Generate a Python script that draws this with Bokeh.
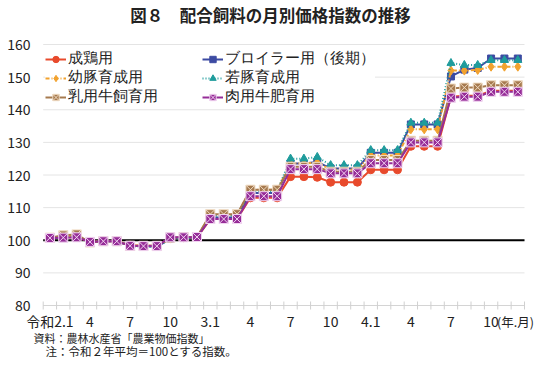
import math
from bokeh.plotting import figure
from bokeh.models import Legend, LegendItem, ColumnDataSource
from bokeh.core.properties import value
from bokeh.embed import file_html
from bokeh.resources import INLINE

# ---------------- data ----------------
months = list(range(36))  # 令和2年1月 .. 令和4年12月

seikei = [100.6, 100.9, 101.0, 99.5, 99.8, 99.7, 98.5, 98.3, 98.3, 100.5, 100.8, 100.8,
          106.5, 106.5, 106.5, 113.0, 113.0, 113.0, 119.5, 119.5, 119.3, 117.8, 117.8, 117.8,
          121.6, 121.6, 121.6, 128.8, 128.8, 128.8, 144.0, 144.3, 144.3, 145.8, 145.8, 145.8]
broiler = [100.5, 101.0, 101.2, 99.5, 99.7, 99.7, 98.3, 98.2, 98.0, 100.5, 100.7, 100.8,
           107.0, 107.0, 107.0, 114.5, 114.5, 114.5, 123.5, 123.5, 124.0, 122.0, 122.0, 122.0,
           126.8, 126.8, 126.8, 135.5, 135.5, 135.5, 150.2, 152.3, 152.8, 155.7, 155.7, 155.7]
youton = [100.6, 101.2, 101.4, 99.4, 99.8, 99.8, 98.4, 98.3, 98.2, 100.6, 100.9, 100.9,
          107.8, 107.8, 107.8, 115.5, 115.5, 115.5, 123.5, 123.5, 123.8, 121.7, 121.7, 121.7,
          126.0, 126.0, 126.0, 134.0, 134.0, 134.0, 152.0, 152.0, 152.2, 153.2, 153.2, 153.2]
jakuton = [100.5, 101.0, 101.2, 99.4, 99.7, 99.7, 98.2, 98.0, 97.8, 100.5, 100.7, 100.8,
           107.5, 107.5, 107.5, 115.0, 115.0, 115.0, 125.0, 125.0, 125.5, 123.0, 123.0, 123.0,
           127.6, 127.6, 127.6, 136.0, 136.0, 136.0, 154.3, 153.7, 153.7, 155.2, 155.2, 155.2]
nyuyo = [100.8, 101.5, 101.8, 99.3, 99.7, 99.7, 98.3, 98.3, 98.3, 100.8, 101.0, 101.0,
         108.0, 108.0, 108.0, 115.5, 115.5, 115.5, 122.5, 122.5, 122.5, 121.0, 121.0, 121.0,
         124.6, 124.6, 124.6, 130.5, 130.5, 130.5, 146.5, 146.8, 146.8, 147.5, 147.5, 147.5]
nikuyo = [100.7, 100.8, 100.9, 99.5, 99.7, 99.7, 98.3, 98.2, 98.2, 100.9, 100.9, 101.0,
          106.5, 106.5, 106.5, 113.5, 113.5, 113.5, 121.8, 121.8, 121.8, 120.5, 120.5, 120.5,
          123.6, 123.6, 123.6, 130.0, 130.0, 130.0, 143.7, 144.0, 144.0, 145.5, 145.5, 145.5]

series_names = ["成鶏用", "ブロイラー用（後期）", "幼豚育成用", "若豚育成用", "乳用牛飼育用", "肉用牛肥育用"]
series_values = [seikei, broiler, youton, jakuton, nyuyo, nikuyo]

tick_pos = [0, 3, 6, 9, 12, 15, 18, 21, 24, 27, 30, 33]
tick_labels = ["令和2.1", "4", "7", "10", "3.1", "4", "7", "10", "4.1", "4", "7", "10"]
unit_label = "(年.月)"
y_ticks = [80, 90, 100, 110, 120, 130, 140, 150, 160]
y_tick_labels = ["80", "90", "100", "110", "120", "130", "140", "150", "160"]
baseline_value = 100

title_text = "図８　配合飼料の月別価格指数の推移"
note1 = "資料：農林水産省「農業物価指数」"
note2 = "注：令和２年平均＝100とする指数。"

# ---------------- layout (pixels) ----------------
FONT = "Noto Sans CJK JP"
W, H = 534, 359
PX_L, PX_R = 42.7, 524.0       # plot area left/right
PY_T, PY_B = 44.0, 305.0       # y=160 / y=80
n = len(months)
dx = (PX_R - PX_L) / n
dy = (PY_B - PY_T) / (y_ticks[-1] - y_ticks[0])


def X(px):
    return (px - PX_L) / dx - 0.5


def Y(py):
    return y_ticks[-1] - (py - PY_T) / dy


p = figure(width=W, height=H, output_backend="svg", toolbar_location=None,
           x_range=(X(0), X(W)), y_range=(Y(H), Y(0)),
           min_border=0, min_border_left=0, min_border_right=0,
           min_border_top=0, min_border_bottom=0)
p.axis.visible = False
p.grid.visible = False
p.outline_line_color = None
p.background_fill_color = "white"

x_lo, x_hi = months[0] - 0.5, months[-1] + 0.5

# gridlines
grid_y = y_ticks[1:]
p.segment(x0=[x_lo] * len(grid_y), x1=[x_hi] * len(grid_y), y0=grid_y, y1=grid_y,
          line_color="#e4e4e4", line_width=1)
# x-axis line and month tick marks
p.segment(x0=[x_lo], x1=[x_hi], y0=[y_ticks[0]], y1=[y_ticks[0]], line_color="#d4d4d4", line_width=1)
bounds = [m - 0.5 for m in months] + [months[-1] + 0.5]
p.scatter(x=bounds, y=[y_ticks[0]] * len(bounds), marker="dash", angle=math.pi / 2, size=8,
          line_color="#d0d0d0", line_width=1)
# 100 baseline
p.segment(x0=[x_lo], x1=[x_hi], y0=[baseline_value], y1=[baseline_value], line_color="black", line_width=2)

# series
colors = ["#E84A2C", "#3C4BA2", "#F2A22E", "#1F9C9C", "#A67A4F", "#962D98"]
dashes = ["solid", "solid", "4 2 1 2", "1 2", "solid", "solid"]
markers = ["circle", "square", "diamond", "triangle", "square_x", "square_x"]
msizes = [8, 7, 9, 8, 9, 9]
mlines = ["#E84A2C", "#3C4BA2", "#F2A22E", "#1F9C9C", "#F0DCC4", "#F2D6F2"]

items = []
for name, vals, c, d, m, s, lc in zip(series_names, series_values, colors, dashes, markers, msizes, mlines):
    src = ColumnDataSource(dict(x=months, y=vals))
    ln = p.line("x", "y", source=src, line_color=c, line_width=2, line_dash=d)
    sc = p.scatter("x", "y", source=src, marker=m, size=s, fill_color=c, line_color=lc, line_width=1)
    items.append(LegendItem(label=name, renderers=[ln, sc]))

order = [0, 2, 4, 1, 3, 5]  # legend fills column-first
legend = Legend(items=[items[i] for i in order], ncols=2, location=(45, 253), padding=4,
                spacing=0, label_text_font="Liberation Sans", label_text_font_size="14.5px",
                label_width=134, label_height=16, glyph_height=16, glyph_width=21,
                label_standoff=2, background_fill_color="white", background_fill_alpha=1,
                border_line_color=None, label_text_color="#222222")
p.add_layout(legend)

TXT = "#222222"
# y tick labels
p.text(x=[X(30)] * len(y_ticks), y=y_ticks, text=y_tick_labels, text_align="right",
       text_baseline="middle", text_font=value(FONT), text_font_size="14px", text_color=TXT)
# x tick labels
p.text(x=tick_pos, y=[Y(320.5)] * len(tick_pos), text=tick_labels, text_align="center",
       text_baseline="middle", text_font=value(FONT), text_font_size="14px", text_color=TXT)
p.text(x=[tick_pos[-1]], y=[Y(320.5)], text=[unit_label], x_offset=6, text_align="left",
       text_baseline="middle", text_font=value(FONT), text_font_size="12.5px", text_color=TXT)
# title
p.text(x=[X(270)], y=[Y(14)], text=[title_text], text_align="center", text_baseline="middle",
       text_font=value(FONT), text_font_size="16.5px", text_font_style="bold", text_color=TXT)
# notes
p.text(x=[X(33)], y=[Y(337)], text=[note1], text_align="left", text_baseline="middle",
       text_font=value(FONT), text_font_size="11px", text_color=TXT)
p.text(x=[X(45)], y=[Y(350)], text=[note2], text_align="left", text_baseline="middle",
       text_font=value(FONT), text_font_size="11.5px", text_color=TXT)

open("out.html", "w").write(file_html(p, INLINE))
